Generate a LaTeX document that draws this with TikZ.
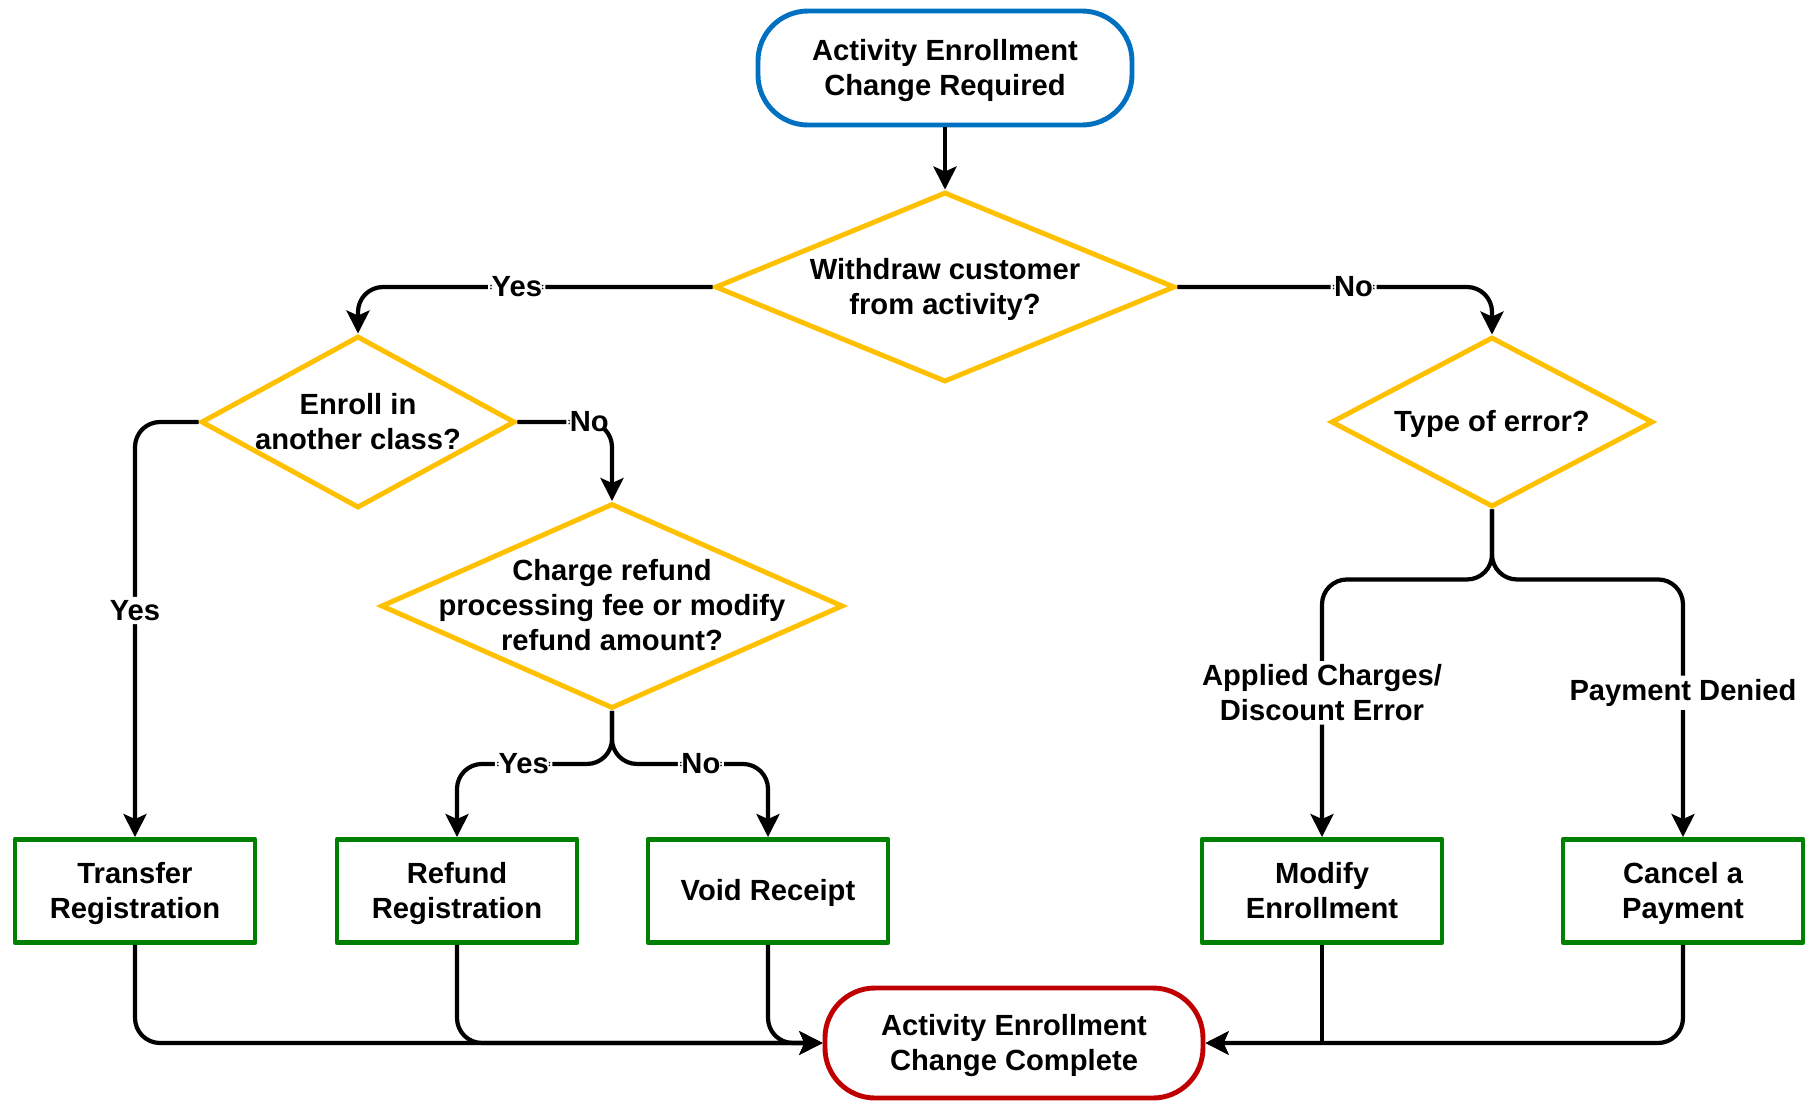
\documentclass[tikz,border=0pt]{standalone}
\usepackage{fontspec}
\setmainfont{Liberation Sans}
\usepackage{xcolor}
\usepackage{tikz}
\usetikzlibrary{shapes.geometric,arrows.meta}
\definecolor{startblue}{HTML}{0070C0}
\definecolor{decyellow}{HTML}{FFC000}
\definecolor{procgreen}{HTML}{008000}
\definecolor{endred}{HTML}{C00000}

\begin{document}
\begin{tikzpicture}[
  font=\fontsize{8.3}{10}\selectfont\bfseries,
  terminal/.style={draw,line width=1.4pt,rounded corners=0.5cm,minimum width=3.74cm,minimum height=1.14cm,align=center,text depth=0.5pt},
  decision/.style={diamond,draw=decyellow,line width=1.4pt,aspect=2.4,inner xsep=-0.8cm,inner ysep=0pt,align=center,text depth=0.5pt},
  process/.style={draw=procgreen,line width=1.4pt,line join=round,minimum width=2.4cm,minimum height=1.03cm,align=center,text depth=0.5pt},
  conn/.style={line width=1.2pt,rounded corners=0.25cm,-{Stealth[length=2.3mm,width=2.3mm,inset=0.5mm]}},
  lbl/.style={fill=white,inner sep=1pt,align=center}
]
  \fill[white] (0,0) rectangle (18.12,-11.02);
  \useasboundingbox (0,0) rectangle (18.12,-11.02);

  \node[terminal,draw=startblue] (start) at (9.45,-0.68) {Activity Enrollment\\Change Required};
  \node[decision,minimum width=4.6cm,minimum height=1.9cm] (withdraw) at (9.45,-2.87) {Withdraw customer\\from activity?};
  \node[decision,minimum width=3.14cm,minimum height=1.72cm] (enroll) at (3.58,-4.22) {Enroll in\\another class?};
  \node[decision,minimum width=3.22cm,minimum height=1.7cm] (errtype) at (14.92,-4.22) {Type of error?};
  \node[decision,minimum width=4.62cm,minimum height=2.05cm] (charge) at (6.12,-6.06) {Charge refund\\processing fee or modify\\refund amount?};

  \node[process] (transfer) at (1.35,-8.91) {Transfer\\Registration};
  \node[process] (refund) at (4.57,-8.91) {Refund\\Registration};
  \node[process] (void) at (7.68,-8.91) {Void Receipt};
  \node[process] (modify) at (13.22,-8.91) {Modify\\Enrollment};
  \node[process] (cancel) at (16.83,-8.91) {Cancel a\\Payment};

  \node[terminal,draw=endred,minimum width=3.78cm,minimum height=1.1cm] (done) at (10.14,-10.43) {Activity Enrollment\\Change Complete};

  \draw[conn] (start) -- (withdraw);
  \draw[conn] (withdraw.west) -| node[lbl,pos=0.276] {Yes} (enroll.north);
  \draw[conn] (withdraw.east) -| node[lbl,pos=0.28] {No} (errtype.north);
  \draw[conn] (enroll.west) -| node[lbl,pos=0.727] {Yes} (transfer.north);
  \draw[conn] (enroll.east) -| node[lbl,pos=0.38] {No} (charge.north);
  \draw[conn] (charge.south) -- ++(0,-0.53) -| node[lbl,pos=0.285] {Yes} (refund.north);
  \draw[conn] (charge.south) -- ++(0,-0.53) -| node[lbl,pos=0.285] {No} (void.north);
  \draw[conn] (errtype.south) -- ++(0,-0.7) -| node[lbl,pos=0.72] {Applied Charges/\\Discount Error} (modify.north);
  \draw[conn] (errtype.south) -- ++(0,-0.7) -| node[lbl,pos=0.72] {Payment Denied} (cancel.north);

  \draw[conn] (transfer.south) |- (done.west);
  \draw[conn] (refund.south) |- (done.west);
  \draw[conn] (void.south) |- (done.west);
  \draw[conn] (cancel.south) |- (done.east);
  \draw[conn,sharp corners] (modify.south) |- (done.east);
\end{tikzpicture}
\end{document}
